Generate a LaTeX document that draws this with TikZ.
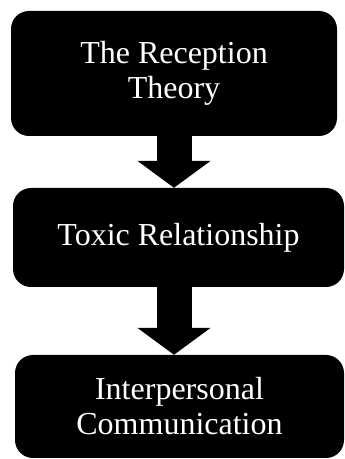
\documentclass[tikz,border=0pt]{standalone}
\usepackage{fontspec}
\setmainfont{Liberation Serif}
\usetikzlibrary{arrows.meta}
\tikzset{
  flowbox/.style={fill=black, text=white, rounded corners=18pt, inner sep=0pt,
    align=center, font=\fontsize{32}{35}\selectfont},
  bigarrow/.style={line width=35pt, -{Triangle[width=72pt,length=27pt]}}
}
\begin{document}
\begin{tikzpicture}[x=1pt,y=1pt]
  \useasboundingbox (0,0) rectangle (345,459);
  % boxes
  \node[flowbox, minimum width=326pt, minimum height=125pt] (theory) at (174,385.5) {The Reception\\Theory};
  \node[flowbox, minimum width=331pt, minimum height=99pt] (toxic) at (178.5,221.5) {Toxic Relationship};
  \node[flowbox, minimum width=329pt, minimum height=103pt] (interpersonal) at (179.5,52.5) {Interpersonal\\Communication};
  % arrows between boxes
  \draw[bigarrow] (theory.south) -- (theory.south |- toxic.north);
  \draw[bigarrow] (toxic.south -| theory.south) -- (theory.south |- interpersonal.north);
\end{tikzpicture}
\end{document}
